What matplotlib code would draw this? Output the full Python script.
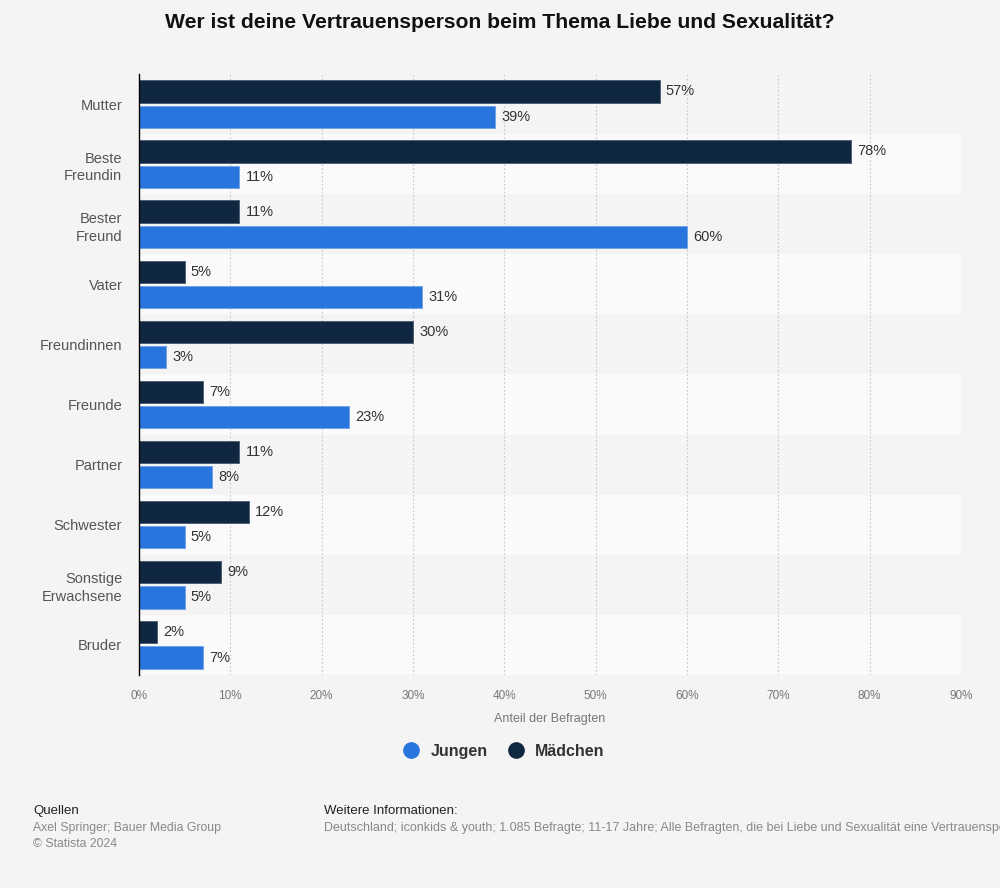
import matplotlib
matplotlib.use("Agg")
import matplotlib.pyplot as plt
from matplotlib.lines import Line2D
import numpy as np

categories = ["Mutter", "Beste\nFreundin", "Bester\nFreund", "Vater", "Freundinnen",
              "Freunde", "Partner", "Schwester", "Sonstige\nErwachsene", "Bruder"]
maedchen = [57, 78, 11, 5, 30, 7, 11, 12, 9, 2]
jungen = [39, 11, 60, 31, 3, 23, 8, 5, 5, 7]
xticks = [0, 10, 20, 30, 40, 50, 60, 70, 80, 90]

BLUE = "#2876dd"
NAVY = "#0f2741"
BG = "#f4f4f4"

plt.rcParams['font.family'] = ['Liberation Sans', 'DejaVu Sans']

fig = plt.figure(figsize=(10, 8.88), dpi=100, facecolor=BG)
ax = fig.add_axes([0.139, 0.2399, 0.822, 0.6768])
ax.set_facecolor(BG)

n = len(categories)
y = np.arange(n)
h = 0.37
gap = 0.025

for i in range(n):
    col = "#f4f4f4" if i % 2 == 0 else "#fafafa"
    ax.axhspan(i - 0.5, i + 0.5, color=col, zorder=0, lw=0)

ax.barh(y - h / 2 - gap, maedchen, height=h, color=NAVY, edgecolor="#4a5a6c", linewidth=0.6, zorder=3)
ax.barh(y + h / 2 + gap, jungen, height=h, color=BLUE, edgecolor="#6fa0e6", linewidth=0.6, zorder=3)

for i in range(n):
    ax.annotate(f"{maedchen[i]}%", (maedchen[i], y[i] - h / 2 - gap), xytext=(4.5, 0),
                textcoords="offset points", va="center", ha="left", fontsize=10.5, color="#333333")
    ax.annotate(f"{jungen[i]}%", (jungen[i], y[i] + h / 2 + gap), xytext=(4.5, 0),
                textcoords="offset points", va="center", ha="left", fontsize=10.5, color="#333333")

ax.set_ylim(n - 0.5, -0.5)
ax.set_xlim(0, 90)
ax.set_yticks(y)
ax.set_yticklabels(categories, fontsize=10.5, color="#555555", linespacing=1.35)
ax.set_xticks(xticks)
ax.set_xticklabels([f"{t}%" for t in xticks], fontsize=8.5, color="#777777")
ax.tick_params(axis="y", length=0, pad=12)
ax.tick_params(axis="x", length=0, pad=11)
ax.grid(axis="x", color="#c8c8c8", linestyle=(0, (1.5, 2)), linewidth=0.8, zorder=1)
for s in ["top", "right", "bottom"]:
    ax.spines[s].set_visible(False)
ax.spines["left"].set_color("#000000")
ax.spines["left"].set_linewidth(1.0)
ax.spines["left"].set_zorder(5)
ax.set_xlabel("Anteil der Befragten", fontsize=9, color="#777777", labelpad=8)

handles = [Line2D([0], [0], marker="o", linestyle="", markersize=11, color=BLUE, label="Jungen"),
           Line2D([0], [0], marker="o", linestyle="", markersize=11, color=NAVY, label="Mädchen")]
leg = fig.legend(handles=handles, loc="center", bbox_to_anchor=(0.5, 0.154), ncol=2,
                 frameon=False, handletextpad=0.2, columnspacing=0.8,
                 prop={"size": 11.5, "weight": "bold"})
for t in leg.get_texts():
    t.set_color("#333333")

fig.text(0.5, 0.975, "Wer ist deine Vertrauensperson beim Thema Liebe und Sexualität?",
         ha="center", va="center", fontsize=15.2, fontweight="bold", color="#111111")

fig.text(0.033, 0.087, "Quellen", fontsize=9.5, color="#222222", va="center")
fig.text(0.033, 0.068, "Axel Springer; Bauer Media Group", fontsize=8.8, color="#888888", va="center")
fig.text(0.033, 0.050, "© Statista 2024", fontsize=8.8, color="#888888", va="center")
fig.text(0.324, 0.087, "Weitere Informationen:", fontsize=9.5, color="#222222", va="center")
fig.text(0.324, 0.068, "Deutschland; iconkids & youth; 1.085 Befragte; 11-17 Jahre; Alle Befragten, die bei Liebe und Sexualität eine Vertrauensperson haben",
         fontsize=9, color="#888888", va="center")

fig.savefig("out.png", dpi=100, facecolor=BG)
